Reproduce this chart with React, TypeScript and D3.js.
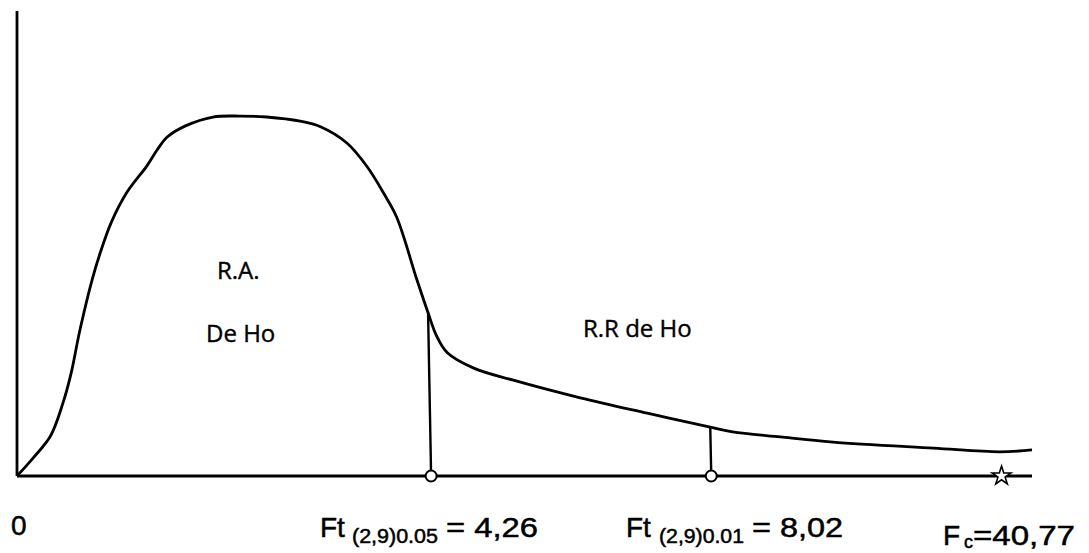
import { useMemo } from 'react';
import * as d3 from 'd3';

// F distribution sketch, values in relative units (0..100 on both axes)
const curveX = [0, 1.6, 3.3, 4.5, 5.3, 6.2, 7.4, 8.2, 9.3, 10.8, 12.8, 13.8, 14.8, 16.6, 19.3, 22.0, 24.6, 27.9, 29.9, 32.5, 34.5, 36.1, 37.4, 39.4, 40.5, 41.3, 42.4, 45.0, 48.9, 55.5, 62.1, 68.3, 70.5, 75.2, 80.4, 90.3, 96.8, 100];
const curveY = [0, 3.9, 8.6, 15.5, 21.8, 31.4, 42.2, 48.0, 54.6, 60.9, 66.7, 70.1, 72.9, 75.3, 77.2, 77.4, 77.2, 76.3, 75.1, 71.6, 66.5, 60.9, 55.7, 42.2, 35.1, 30.3, 26.5, 23.2, 20.6, 16.8, 13.5, 10.5, 9.5, 8.4, 7.3, 6.0, 5.2, 5.6];

// critical values: where the line meets the curve and the axis
const critTopX = [40.5, 68.3];
const critTopY = [35.1, 10.5];
const critBaseX = [40.8, 68.4];

// computed F
const fcX = 97.0;

const width = 1089;
const height = 553;

const App = () => {
  const x = d3.scaleLinear().domain([0, 100]).range([17, 1032]);
  const y = d3.scaleLinear().domain([0, 100]).range([476, 11]);

  const path = useMemo(() => {
    const line = d3.line<number>()
      .x((_, i) => x(curveX[i]))
      .y((_, i) => y(curveY[i]))
      .curve(d3.curveCatmullRom.alpha(0.5));
    return line(curveX) || '';
  }, []);

  const star = d3.symbol().type(d3.symbolStar).size(110)() || '';

  const sans = '"Liberation Sans", Arial, Helvetica, sans-serif';
  const label = '"Open Sans", "Noto Sans", sans-serif';
  const ink = { fill: '#000', stroke: '#000', strokeWidth: 0.5 };

  return (
    <svg width={width} height={height} style={{ position: 'absolute', left: 0, top: 0, background: '#fff' }}>
      {/* axes */}
      <line x1={x(0)} x2={x(0)} y1={y(0)} y2={y(100)} stroke="#000" strokeWidth={2.8} />
      <line x1={x(0)} x2={x(100)} y1={y(0)} y2={y(0)} stroke="#000" strokeWidth={2.8} />

      {/* density curve */}
      <path d={path} fill="none" stroke="#000" strokeWidth={2.8} strokeLinejoin="round" />

      {/* critical value lines */}
      {critTopX.map((cx, i) => (
        <g key={i}>
          <line x1={x(cx)} y1={y(critTopY[i])} x2={x(critBaseX[i])} y2={y(0)} stroke="#000" strokeWidth={2.4} />
          <circle cx={x(critBaseX[i])} cy={y(0)} r={5.5} fill="#fff" stroke="#000" strokeWidth={2} />
        </g>
      ))}

      <path d={star} transform={`translate(${x(fcX)},${y(0)})`} fill="#fff" stroke="#000" strokeWidth={1.6} />

      {/* region labels */}
      <g fontFamily={label} fontSize={24} {...ink} strokeWidth={0.4}>
        <text x={217} y={279}>R.A.</text>
        <text x={206} y={342}>De Ho</text>
        <text x={583} y={337}>R.R de Ho</text>
      </g>

      {/* bottom labels */}
      <g fontFamily={sans} {...ink}>
        <text x={11} y={535} fontSize={28}>0</text>

        <text x={320} y={537} fontSize={28}>Ft</text>
        <text x={352} y={543} fontSize={20} textLength={86} lengthAdjust="spacingAndGlyphs">(2,9)0.05</text>
        <text x={446} y={537} fontSize={28} textLength={92} lengthAdjust="spacingAndGlyphs">= 4,26</text>

        <text x={626} y={537} fontSize={28}>Ft</text>
        <text x={659} y={543} fontSize={20} textLength={85} lengthAdjust="spacingAndGlyphs">(2,9)0.01</text>
        <text x={752} y={537} fontSize={28} textLength={91} lengthAdjust="spacingAndGlyphs">= 8,02</text>

        <text x={943} y={545} fontSize={28}>F</text>
        <text x={964} y={548} fontSize={18}>c</text>
        <text x={973} y={545} fontSize={28} textLength={102} lengthAdjust="spacingAndGlyphs">=40,77</text>
      </g>
    </svg>
  );
};

export default App;
